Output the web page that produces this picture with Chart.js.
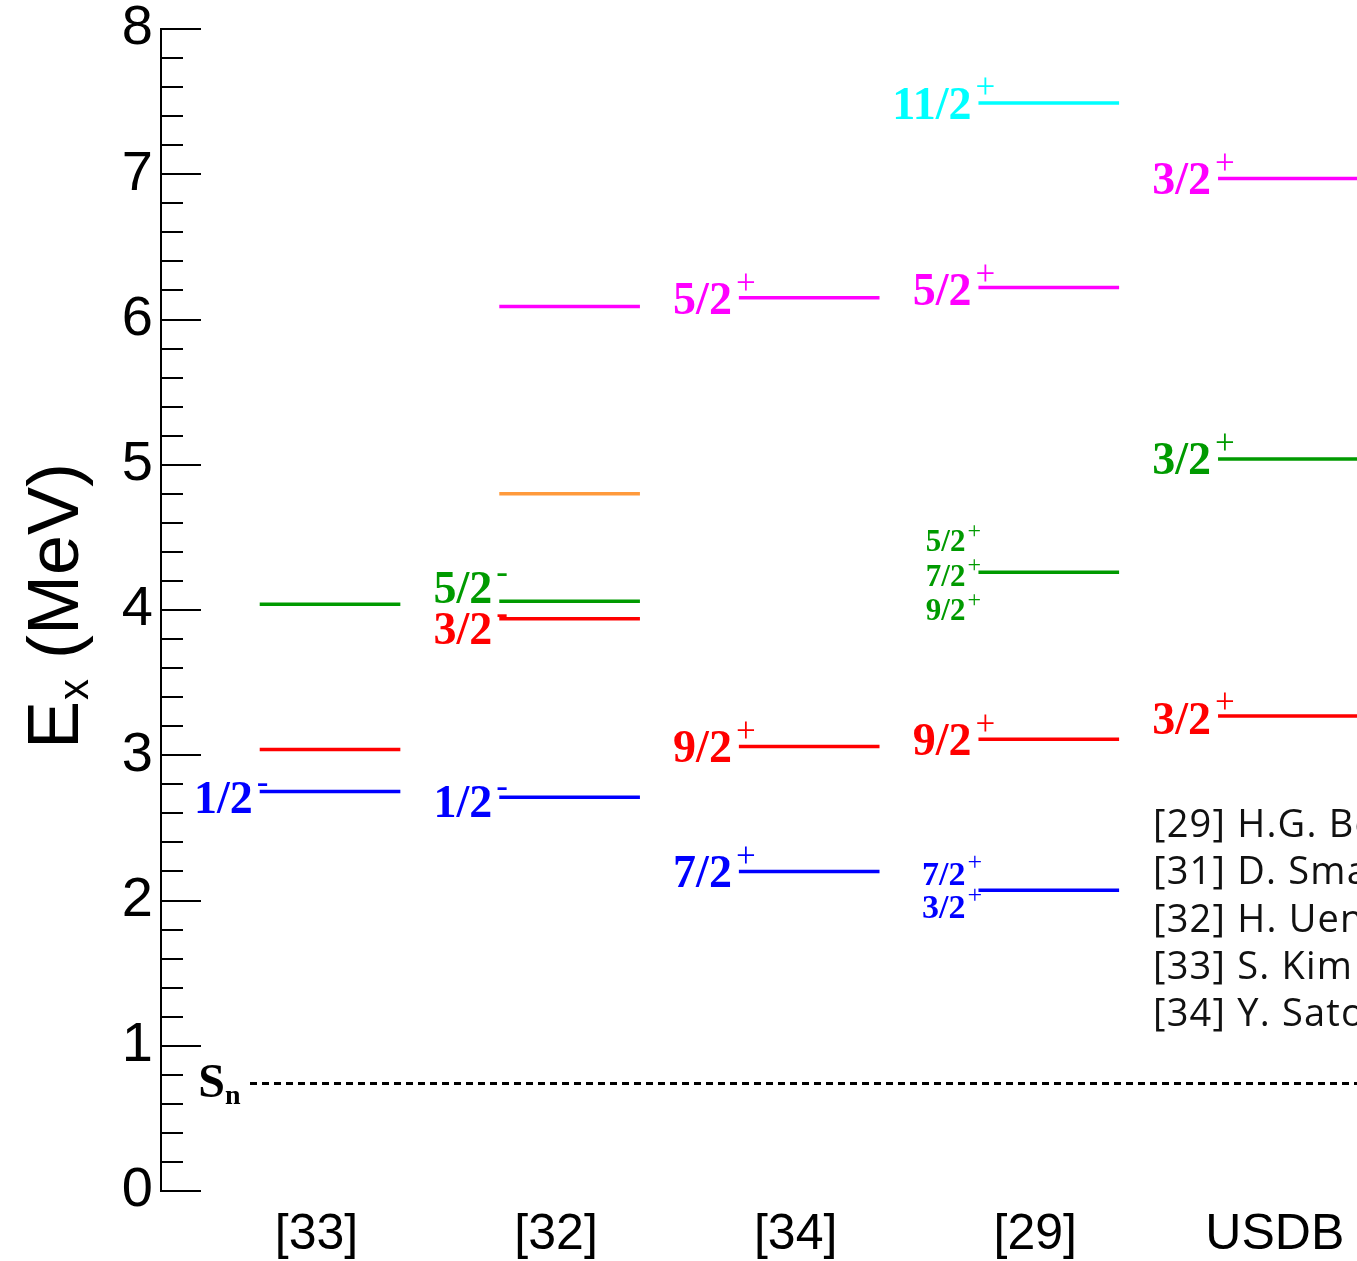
<!DOCTYPE html>
<html>
<head>
<meta charset="utf-8">
<script src="https://cdn.jsdelivr.net/npm/chart.js@4/dist/chart.umd.min.js"></script>
<style>
  html, body { margin: 0; padding: 0; background: #fff; overflow: hidden; }
  #wrap { position: relative; width: 1357px; height: 1261px; overflow: hidden; }
  #refs { position: absolute; left: 1153px; top: 799px; font-family: "Open Sans", sans-serif;
          font-size: 38px; line-height: 47.3px; color: #111; white-space: pre; letter-spacing: 1.2px; }
</style>
</head>
<body>
<div id="wrap">
  <canvas id="c" width="1357" height="1261"></canvas>
  <div id="refs">[29] H.G. Bohlen
[31] D. Smalley
[32] H. Ueno
[33] S. Kim
[34] Y. Satou</div>
</div>
<script>
// ---------- data ----------
const categories    = ['[33]', '[32]', '[34]', '[29]', 'USDB'];
const blueLevels    = [2.75, 2.71, 2.20, 2.07, null];
const redLevels     = [3.04, 3.94, 3.06, 3.11, 3.27];
const greenLevels   = [4.04, 4.06, null, 4.26, 5.04];
const orangeLevels  = [null, 4.80, null, null, null];
const magentaLevels = [null, 6.09, 6.15, 6.22, 6.97];
const cyanLevels    = [null, null, null, 7.49, null];
const blueLabels    = ['1/2-', '1/2-', '7/2+', '7/2+|3/2+', ''];
const redLabels     = ['', '3/2-', '9/2+', '9/2+', '3/2+'];
const greenLabels   = ['', '5/2-', '', '5/2+|7/2+|9/2+', '3/2+'];
const orangeLabels  = ['', '', '', '', ''];
const magentaLabels = ['', '', '5/2+', '5/2+', '3/2+'];
const cyanLabels    = ['', '', '', '11/2+', ''];
const snEnergy = 0.74;
const snLabel = ['S', 'n'];
const yMajorTicks = [0, 1, 2, 3, 4, 5, 6, 7, 8];
const yTitle = ['E', 'x', ' (MeV)'];

// ---------- styles / layout ----------
const X_MIN = -0.649, X_MAX = 4.343;
const SEG_START = -0.237, SEG_END = 0.35, SN_START = -0.2775;
const series = [
  { name: 'blue',    levels: blueLevels,    labels: blueLabels,    color: '#0000ff' },
  { name: 'red',     levels: redLevels,     labels: redLabels,     color: '#ff0000' },
  { name: 'green',   levels: greenLevels,   labels: greenLabels,   color: '#009a00' },
  { name: 'orange',  levels: orangeLevels,  labels: orangeLabels,  color: '#ff9a3c' },
  { name: 'magenta', levels: magentaLevels, labels: magentaLabels, color: '#ff00ff' },
  { name: 'cyan',    levels: cyanLevels,    labels: cyanLabels,    color: '#00ffff' }
];
const labelDy = { 'blue:0': 6, 'blue:1': 4, 'green:1': -14, 'red:1': 10, 'magenta:3': 2, 'red:4': 2, 'magenta:2': 1 };
const stackStyle = { blue: { size: 34, gap: 33, dy: 0 }, green: { size: 31, gap: 34.5, dy: 3 } };

function segments(levels) {
  const pts = [];
  levels.forEach((e, i) => {
    if (e == null) return;
    pts.push({ x: i + SEG_START, y: e }, { x: i + SEG_END, y: e }, { x: i + SEG_END, y: null });
  });
  return pts;
}

const datasets = series.map(s => ({
  label: s.name, data: segments(s.levels), showLine: true, spanGaps: false,
  borderColor: s.color, borderWidth: 3.5, pointRadius: 0, borderCapStyle: 'butt'
}));
datasets.push({
  label: 'Sn', data: [{ x: SN_START, y: snEnergy }, { x: X_MAX, y: snEnergy }],
  showLine: true, borderColor: '#000', borderWidth: 3, borderDash: [7, 5], pointRadius: 0, borderCapStyle: 'butt'
});

function isMajor(v) { return Math.abs(v - Math.round(v)) < 1e-6; }

const tickPlugin = {
  id: 'ticks',
  afterDraw(chart) {
    const y = chart.scales.y, ctx = chart.ctx, left = chart.chartArea.left;
    ctx.save();
    ctx.strokeStyle = '#000'; ctx.lineWidth = 2;
    y.ticks.forEach(t => {
      const p = Math.round(y.getPixelForValue(t.value));
      const len = isMajor(t.value) ? 40 : 22;
      ctx.beginPath(); ctx.moveTo(left, p); ctx.lineTo(left + len, p); ctx.stroke();
    });
    // axis title
    ctx.translate(78, 749);
    ctx.rotate(-Math.PI / 2);
    ctx.fillStyle = '#000';
    ctx.textBaseline = 'alphabetic'; ctx.textAlign = 'left';
    ctx.font = '72px "Liberation Sans"';
    ctx.fillText(yTitle[0], 0, 0);
    let w = ctx.measureText(yTitle[0]).width;
    ctx.font = '42px "Liberation Sans"';
    ctx.fillText(yTitle[1], w + 1, 10);
    w += 1 + ctx.measureText(yTitle[1]).width;
    ctx.font = '72px "Liberation Sans"';
    ctx.fillText(yTitle[2], w, 0);
    ctx.restore();
  }
};

function drawSpin(ctx, x0, yc, text, size, color, mainGap, supGap) {
  const m = text.match(/^(.*?)([+-])$/);
  const main = m ? m[1] : text, sup = m ? m[2] : '';
  ctx.fillStyle = color;
  ctx.font = 'bold ' + size + 'px "Liberation Serif"';
  ctx.textAlign = 'right'; ctx.textBaseline = 'alphabetic';
  ctx.fillText(main, x0 - mainGap, yc + 0.338 * size);
  if (sup) {
    const ss = Math.round(size * 0.76);
    ctx.font = ss + 'px "Liberation Serif"';
    ctx.textAlign = 'left';
    const supC = yc - 0.29 * size;
    ctx.fillText(sup, x0 - supGap, supC + 0.25 * ss);
  }
}

const labelPlugin = {
  id: 'levelLabels',
  afterDatasetsDraw(chart) {
    const xs = chart.scales.x, ys = chart.scales.y, ctx = chart.ctx;
    ctx.save();
    series.forEach(s => {
      s.levels.forEach((e, i) => {
        const lab = s.labels[i];
        if (e == null || !lab) return;
        const x0 = xs.getPixelForValue(i + SEG_START);
        const y = ys.getPixelForValue(e);
        const parts = lab.split('|');
        if (parts.length === 1) {
          drawSpin(ctx, x0, y + (labelDy[s.name + ':' + i] || 0), parts[0], 46, s.color, 7, 3);
        } else {
          const st = stackStyle[s.name];
          parts.forEach((p, k) => {
            const yc = y + st.dy + (k - (parts.length - 1) / 2) * st.gap;
            drawSpin(ctx, x0, yc, p, st.size, s.color, 13, 11);
          });
        }
      });
    });
    // Sn label
    const sx = xs.getPixelForValue(SN_START), sy = ys.getPixelForValue(snEnergy);
    ctx.fillStyle = '#000';
    ctx.font = 'bold 48px "Liberation Serif"';
    ctx.textAlign = 'right'; ctx.textBaseline = 'alphabetic';
    ctx.fillText(snLabel[0], sx - 25, sy + 13);
    ctx.font = 'bold 28px "Liberation Serif"';
    ctx.textAlign = 'left';
    ctx.fillText(snLabel[1], sx - 25, sy + 20);
    ctx.restore();
  }
};

new Chart(document.getElementById('c'), {
  type: 'scatter',
  data: { datasets },
  options: {
    responsive: false, animation: false, devicePixelRatio: 1,
    layout: { padding: { top: 29, left: 0, right: 0, bottom: 0 } },
    plugins: { legend: { display: false }, tooltip: { enabled: false } },
    scales: {
      x: {
        type: 'linear', min: X_MIN, max: X_MAX,
        grid: { display: false }, border: { display: false },
        afterBuildTicks: s => { s.ticks = categories.map((_, i) => ({ value: i })); },
        afterFit: s => { s.height = 70; s.paddingLeft = 0; s.paddingRight = 0; },
        ticks: {
          autoSkip: false, maxRotation: 0, padding: 11, color: '#000',
          font: { family: 'Liberation Sans', size: 50, lineHeight: 1 },
          callback: v => categories[Math.round(v)] ?? ''
        }
      },
      y: {
        min: 0, max: 8,
        grid: { display: false, drawTicks: false },
        border: { display: true, color: '#000', width: 2 },
        afterBuildTicks: s => {
          const t = [];
          yMajorTicks.forEach((m, k) => {
            t.push({ value: m });
            if (k < yMajorTicks.length - 1) for (let j = 1; j < 5; j++) t.push({ value: Math.round((m + j * 0.2) * 10) / 10 });
          });
          s.ticks = t;
        },
        afterFit: s => { s.width = 161; s.paddingTop = 0; s.paddingBottom = 0; },
        ticks: {
          autoSkip: false, padding: 8, color: '#000',
          font: { family: 'Liberation Sans', size: 56, lineHeight: 1 },
          callback: v => isMajor(v) ? String(Math.round(v)) : ''
        }
      }
    }
  },
  plugins: [tickPlugin, labelPlugin]
});
</script>
</body>
</html>
